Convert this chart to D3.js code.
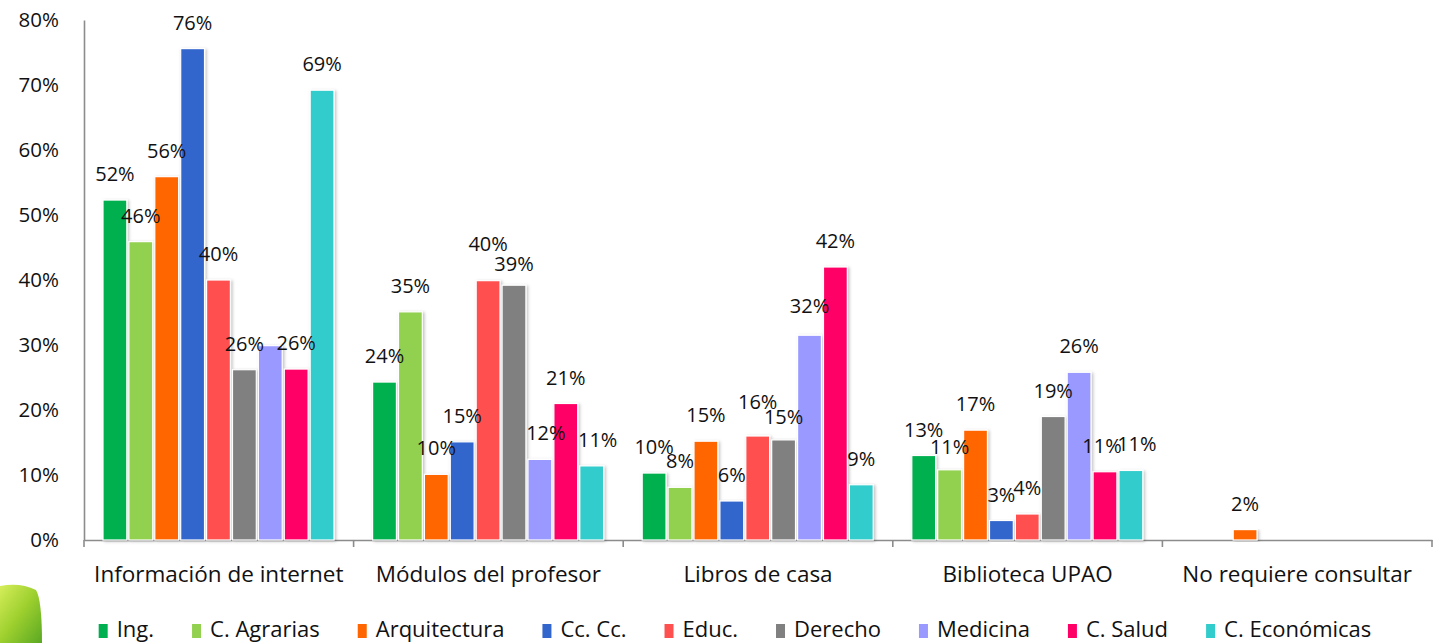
<!DOCTYPE html>
<html>
<head>
<meta charset="utf-8">
<script src="https://cdn.jsdelivr.net/npm/d3@7/dist/d3.min.js"></script>
<style>
  html, body { margin: 0; padding: 0; background: #fff; }
  svg { display: block; font-family: "Open Sans", sans-serif; }
</style>
</head>
<body>
<svg id="chart" width="1441" height="643"></svg>
<script>
const categories = ["Información de internet", "Módulos del profesor", "Libros de casa", "Biblioteca UPAO", "No requiere consultar"];
const seriesNames = ["Ing.", "C. Agrarias", "Arquitectura", "Cc. Cc.", "Educ.", "Derecho", "Medicina", "C. Salud", "C. Económicas"];
const seriesColors = ["#00B050", "#92D050", "#FF6600", "#3366CC", "#FF5050", "#808080", "#9999FF", "#FF0066", "#33CCCC"];
// values in % per series, one entry per category
const ing        = [52.3, 24.3, 10.3, 13, 0];
const agrarias   = [45.9, 35.1, 8.1, 10.8, 0];
const arquitect  = [55.9, 10.1, 15.2, 16.9, 1.6];
const ccCc       = [75.6, 15.1, 6, 3, 0];
const educ       = [40, 39.9, 16, 4, 0];
const derecho    = [26.2, 39.2, 15.4, 19, 0];
const medicina   = [29.9, 12.4, 31.5, 25.8, 0];
const salud      = [26.3, 21, 42, 10.5, 0];
const economicas = [69.2, 11.4, 8.5, 10.7, 0];
const seriesValues = [ing, agrarias, arquitect, ccCc, educ, derecho, medicina, salud, economicas];
const yTicks = [0, 10, 20, 30, 40, 50, 60, 70, 80];
// data labels not shown in the reference: [category index, series index]
const hiddenLabels = [[0, 6]];
// label nudges as in the reference: [category index, series index, dx, dy]
const labelNudges = [[1, 4, 0, -11], [1, 5, 0, 5], [2, 4, 0, -8], [2, 5, 0, 3], [1, 6, 6, 0], [1, 8, 6, 0], [3, 8, 6, 0], [3, 7, -3, 0], [3, 1, 0, 3], [2, 6, 0, -3]];

const svg = d3.select("#chart");
const defs = svg.append("defs");
const f = defs.append("filter").attr("id", "shadow").attr("x", "-20%").attr("y", "-5%").attr("width", "150%").attr("height", "115%");
f.append("feDropShadow").attr("dx", 1.5).attr("dy", 1).attr("stdDeviation", 1.5).attr("flood-color", "#000").attr("flood-opacity", 0.25);

const g1 = defs.append("linearGradient").attr("id", "blob").attr("x1", "0").attr("y1", "0").attr("x2", "1").attr("y2", "1");
g1.append("stop").attr("offset", "0").attr("stop-color", "#d6ee5a");
g1.append("stop").attr("offset", "0.5").attr("stop-color", "#9ccf2e");
g1.append("stop").attr("offset", "1").attr("stop-color", "#5aa823");

// decorative corner blob
svg.append("path")
  .attr("d", "M0,586 Q20,582 36,590 Q42,600 42,643 L0,643 Z")
  .attr("fill", "url(#blob)");

const y = d3.scaleLinear().domain([0, 80]).range([540, 20]);
const x0 = d3.scaleBand().domain(categories).range([84, 1432]).padding(0);
const x1 = d3.scaleBand().domain(seriesNames).range([19, 250]).paddingInner(0.08).paddingOuter(0);

// y axis
const yAxis = svg.append("g").attr("transform", "translate(84,0)")
  .call(d3.axisLeft(y).tickValues(yTicks).tickSize(0).tickPadding(25).tickFormat(d => d + "%"));
yAxis.select(".domain").attr("stroke", "#8c8c8c").attr("stroke-width", 1.6);
yAxis.selectAll("text").attr("font-size", 20.5).attr("fill", "#111").attr("font-family", "Open Sans");

// x axis
const xAxis = svg.append("g").attr("transform", "translate(0,540)")
  .call(d3.axisBottom(x0).tickSize(0).tickFormat(""));
xAxis.select(".domain").attr("stroke", "#8c8c8c").attr("stroke-width", 1.6);
xAxis.selectAll(".tick").remove();
const boundaries = categories.map(c => x0(c)).concat([x0(categories[categories.length - 1]) + x0.bandwidth()]);
xAxis.selectAll("line.bound").data(boundaries).join("line")
  .attr("class", "bound")
  .attr("x1", d => d).attr("x2", d => d).attr("y1", 0).attr("y2", 7)
  .attr("stroke", "#8c8c8c").attr("stroke-width", 1.6);

svg.append("g").selectAll("text").data(categories).join("text")
  .attr("x", d => x0(d) + x0.bandwidth() / 2)
  .attr("y", 582)
  .attr("text-anchor", "middle")
  .attr("font-size", 22.5)
  .attr("fill", "#111")
  .text(d => d);

// bars
const flat = [];
categories.forEach((c, ci) => {
  seriesNames.forEach((s, si) => {
    flat.push({ c, ci, s, si, v: seriesValues[si][ci] });
  });
});
const isHidden = d => hiddenLabels.some(h => h[0] === d.ci && h[1] === d.si);
const nudge = d => labelNudges.find(n => n[0] === d.ci && n[1] === d.si) || [0, 0, 0, 0];

svg.append("g").selectAll("rect").data(flat.filter(d => d.v > 0)).join("rect")
  .attr("x", d => x0(d.c) + x1(d.s))
  .attr("y", d => y(d.v))
  .attr("width", x1.bandwidth())
  .attr("height", d => y(0) - y(d.v))
  .attr("fill", d => seriesColors[d.si])
  .attr("stroke", "#fff")
  .attr("stroke-width", 1.2)
  .attr("filter", "url(#shadow)");

svg.append("g").selectAll("text").data(flat.filter(d => d.v > 0 && !isHidden(d))).join("text")
  .attr("x", d => x0(d.c) + x1(d.s) + x1.bandwidth() / 2 + nudge(d)[2])
  .attr("y", d => y(d.v) - 19 + nudge(d)[3])
  .attr("text-anchor", "middle")
  .attr("font-size", 20)
  .attr("fill", "#111")
  .text(d => Math.round(d.v) + "%");

// legend
const legend = svg.append("g");
const items = legend.selectAll("g").data(seriesNames).join("g");
items.append("rect").attr("width", 9).attr("height", 14).attr("y", 624)
  .attr("fill", (d, i) => seriesColors[i]);
items.append("text").attr("x", 18).attr("y", 637).attr("font-size", 22).attr("fill", "#111").text(d => d);
const gap = 38;
let cx = 0;
const positions = [];
items.each(function () {
  const w = d3.select(this).select("text").node().getComputedTextLength();
  positions.push(cx);
  cx += 18 + w + gap;
});
const totalW = cx - gap;
const startX = 735 - totalW / 2;
items.attr("transform", (d, i) => `translate(${startX + positions[i]},0)`);
</script>
</body>
</html>
